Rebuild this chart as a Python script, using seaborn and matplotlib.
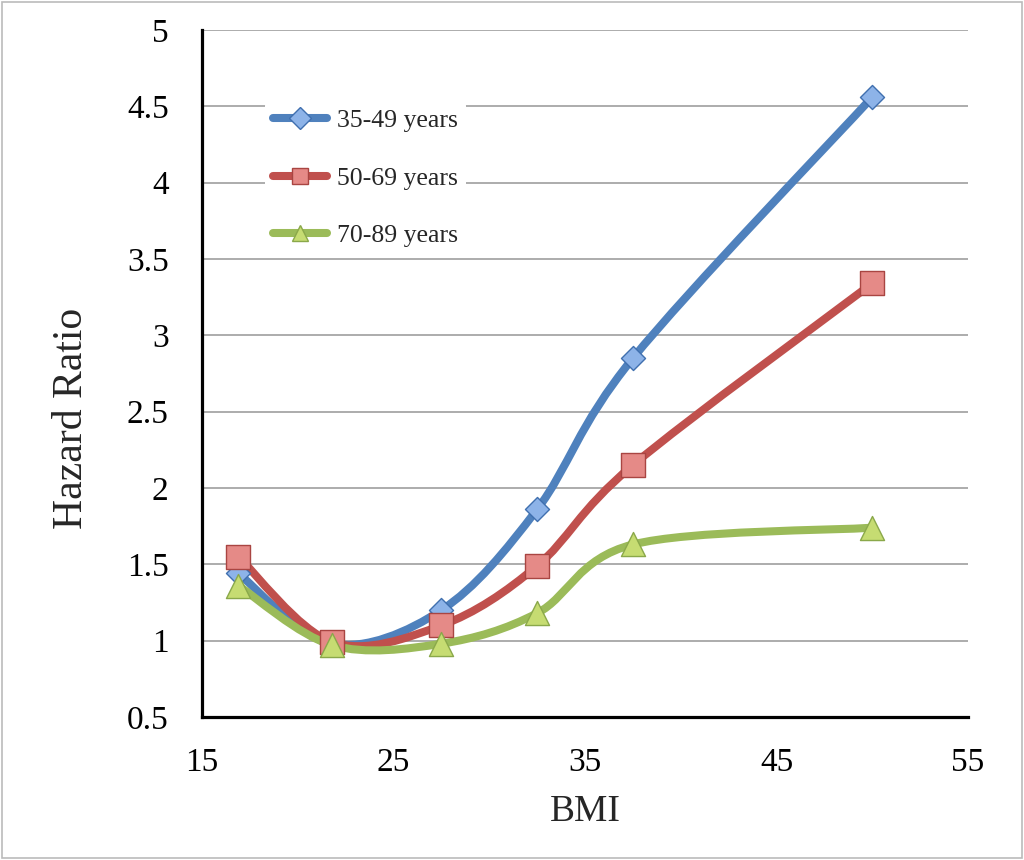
import numpy as np
import pandas as pd
import matplotlib
matplotlib.use('Agg')
import matplotlib.pyplot as plt
from matplotlib.path import Path
from matplotlib.patches import PathPatch, Rectangle
from matplotlib.lines import Line2D
import seaborn as sns

# 데이터
bmi = [16.9, 21.8, 27.5, 32.5, 37.5, 50.0]
hr_35_49 = [1.44, 0.98, 1.20, 1.86, 2.85, 4.56]
hr_50_69 = [1.55, 0.99, 1.10, 1.49, 2.15, 3.34]
hr_70_89 = [1.36, 0.97, 0.98, 1.18, 1.63, 1.74]
groups = ['35-49 years', '50-69 years', '70-89 years']

line_colors = ['#4F81BD', '#C0504D', '#9BBB59']
fill_colors = ['#8DB3E8', '#E58A87', '#C6DC72']
edge_colors = ['#3F6FAF', '#A94542', '#8AA84A']
markers = ['D', 's', '^']
msizes = [150, 300, 300]

df = pd.DataFrame({
    'BMI': bmi * 3,
    'HR': hr_35_49 + hr_50_69 + hr_70_89,
    'group': [g for g in groups for _ in bmi],
})

sns.set_style('white')
plt.rcParams['font.family'] = ['Liberation Serif', 'DejaVu Serif']


def smooth_path(xs, ys):
    # 엑셀식 부드러운 선: 각 구간을 베지어 곡선으로 연결
    pts = np.column_stack([xs, ys])
    ext = np.vstack([pts[0], pts, pts[-1]])
    verts = [pts[0]]
    codes = [Path.MOVETO]
    for i in range(len(pts) - 1):
        p0, p1, p2, p3 = ext[i], ext[i + 1], ext[i + 2], ext[i + 3]
        c1 = p1 + (p2 - p0) / 6
        c2 = p2 - (p3 - p1) / 6
        verts += [c1, c2, p2]
        codes += [Path.CURVE4] * 3
    return Path(verts, codes)


fig = plt.figure(figsize=(10.24, 8.6), dpi=100)
ax = fig.add_axes([202 / 1024, 1 - 717 / 860, 766 / 1024, 687 / 860])

for g, lc in zip(groups, line_colors):
    sub = df[df['group'] == g]
    patch = PathPatch(smooth_path(sub['BMI'], sub['HR']), facecolor='none',
                      edgecolor=lc, lw=5.8, capstyle='round', joinstyle='round', zorder=3)
    ax.add_patch(patch)

for g, fc, ec, m, s in zip(groups, fill_colors, edge_colors, markers, msizes):
    sns.scatterplot(data=df[df['group'] == g], x='BMI', y='HR', marker=m, s=s,
                    color=fc, edgecolor=ec, linewidth=1, zorder=4, ax=ax, legend=False)

ax.set_xlim(15, 55)
ax.set_ylim(0.5, 5)
ax.set_xticks([15, 25, 35, 45, 55])
ax.set_yticks(np.arange(0.5, 5.01, 0.5))
ax.set_yticklabels(['0.5', '1', '1.5', '2', '2.5', '3', '3.5', '4', '4.5', '5'])
ax.yaxis.grid(True, color='#A6A6A6', lw=1.3)
ax.set_axisbelow(True)
for side in ['top', 'right']:
    ax.spines[side].set_visible(False)
for side in ['left', 'bottom']:
    ax.spines[side].set_linewidth(2.3)
    ax.spines[side].set_color('black')
ax.tick_params(axis='both', direction='out', length=8, width=2.3, labelsize=24,
               colors='black')
ax.tick_params(axis='y', pad=16)
ax.tick_params(axis='x', pad=14)
ax.set_xlabel('BMI', fontsize=27, labelpad=12)
ax.set_ylabel('Hazard Ratio', fontsize=30)
ax.yaxis.set_label_coords(-0.145, 0.435)

handles = [Line2D([0], [0], color=lc, lw=5.8, marker=m, markersize=11,
                  markerfacecolor=fc, markeredgecolor=ec, solid_capstyle='round')
           for lc, fc, ec, m in zip(line_colors, fill_colors, edge_colors, markers)]
leg = ax.legend(handles, groups, loc='upper left', bbox_to_anchor=(0.066, 0.915),
                fontsize=18.5, frameon=True, facecolor='white', edgecolor='none',
                framealpha=1, handlelength=2.1, labelspacing=1.35, borderpad=0.3,
                handletextpad=0.4)

fig.add_artist(Rectangle((0.002, 0.002), 0.996, 0.996, transform=fig.transFigure,
                         fill=False, edgecolor='#BBBBBB', lw=1.2))

fig.savefig('out.png', dpi=100)
